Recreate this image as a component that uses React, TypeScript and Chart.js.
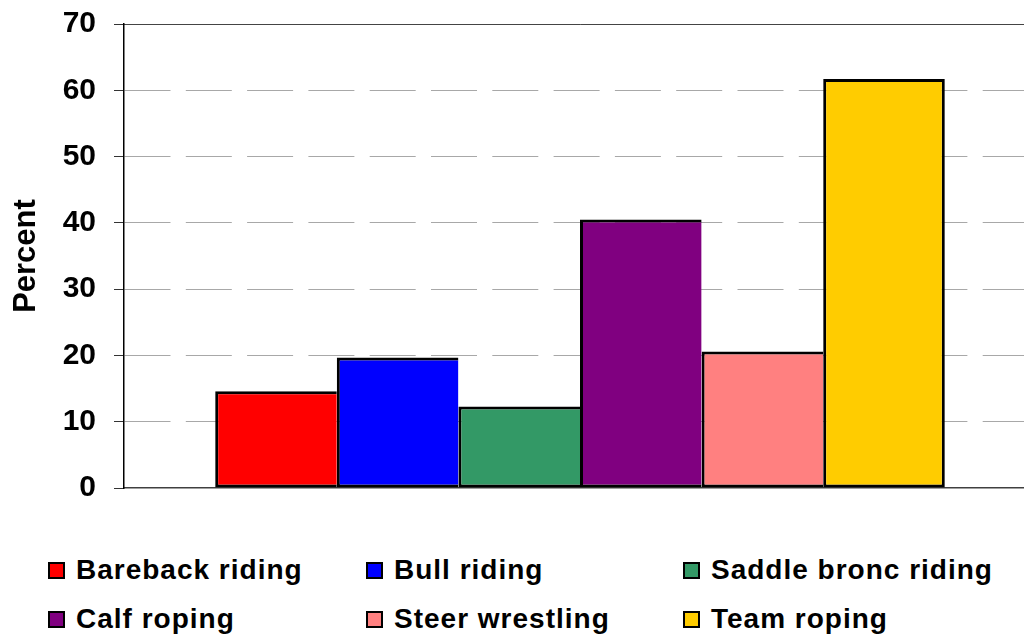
import React, { useEffect, useRef } from "react";
import { Chart, registerables } from "chart.js";

Chart.register(...registerables);

const categories = ["Event"];
const seriesNames = [
  "Bareback riding",
  "Bull riding",
  "Saddle bronc riding",
  "Calf roping",
  "Steer wrestling",
  "Team roping",
];
const seriesValues = [14.6, 19.7, 12.3, 40.5, 20.6, 61.7];
const seriesColors = ["#FF0000", "#0000FF", "#339966", "#800080", "#FF8080", "#FFCC00"];
const yTicks = [0, 10, 20, 30, 40, 50, 60, 70];

const FONT = "'Liberation Sans', Arial, sans-serif";

export default function App() {
  const canvasRef = useRef<HTMLCanvasElement | null>(null);

  useEffect(() => {
    const canvas = canvasRef.current;
    if (!canvas) return;
    const n = seriesNames.length;
    const chart = new Chart(canvas, {
      type: "bar",
      data: {
        labels: categories,
        datasets: seriesNames.map((name, i) => ({
          label: name,
          data: [seriesValues[i]],
          backgroundColor: seriesColors[i],
          borderColor: "#000000",
          borderWidth: { top: 3, left: 3, right: i === n - 1 ? 3 : 0, bottom: 3 },
          borderSkipped: false,
          inflateAmount: 0,
          categoryPercentage: 0.8,
          barPercentage: 1.0,
        })),
      },
      options: {
        animation: false,
        responsive: false,
        maintainAspectRatio: false,
        layout: { padding: 0 },
        plugins: {
          legend: { display: false },
          tooltip: { enabled: false },
        },
        scales: {
          x: {
            type: "category",
            grid: { display: false },
            ticks: { display: false },
            border: { display: true, color: "#404040", width: 1.5 },
            afterFit: (s: any) => {
              s.height = 0;
            },
          },
          x2: {
            type: "category",
            position: "top",
            labels: categories,
            grid: { display: false },
            ticks: { display: false },
            border: { display: true, color: "#444444", width: 1 },
            afterFit: (s: any) => {
              s.height = 0;
            },
          },
          y: {
            min: 0,
            max: 70,
            afterBuildTicks: (s: any) => {
              s.ticks = yTicks.map((v) => ({ value: v }));
            },
            ticks: {
              color: "#000000",
              padding: 18,
              font: { family: FONT, size: 30, weight: "bold" },
            },
            grid: {
              color: (ctx: any) => (ctx.tick && ctx.tick.value === 0 ? "rgba(0,0,0,0)" : "#A8A8A8"),
              lineWidth: 1,
              tickLength: 10,
              tickColor: "#333333",
              tickBorderDash: [],
            },
            border: { display: true, color: "#000000", width: 1.5, dash: [46, 15.3] },
            title: {
              display: true,
              text: "Percent",
              color: "#000000",
              padding: { top: 8, bottom: 0 },
              font: { family: FONT, size: 31, weight: "bold" },
            },
            afterFit: (s: any) => {
              s.width = 124;
            },
          },
        },
      },
    });
    return () => chart.destroy();
  }, []);

  const colLeft = [48, 366, 683];
  const rowTop = [563, 612];

  return (
    <div
      style={{
        position: "fixed",
        left: 0,
        top: 0,
        width: 1024,
        height: 638,
        overflow: "hidden",
        background: "#ffffff",
      }}
    >
      <canvas
        ref={canvasRef}
        width={1036}
        height={536}
        style={{ position: "absolute", left: 0, top: -12, width: 1036, height: 536 }}
      />
      {seriesNames.map((name, i) => {
        const col = i % 3;
        const row = Math.floor(i / 3);
        return (
          <div
            key={name}
            style={{
              position: "absolute",
              left: colLeft[col],
              top: rowTop[row] - 13,
              height: 40,
              display: "flex",
              alignItems: "center",
              whiteSpace: "nowrap",
            }}
          >
            <span
              style={{
                display: "inline-block",
                width: 13,
                height: 13,
                background: seriesColors[i],
                border: "2px solid #000",
                marginRight: 11,
              }}
            />
            <span
              style={{
                fontFamily: FONT,
                fontWeight: "bold",
                fontSize: 28,
                letterSpacing: 1,
                color: "#000",
                lineHeight: "40px",
              }}
            >
              {name}
            </span>
          </div>
        );
      })}
    </div>
  );
}
